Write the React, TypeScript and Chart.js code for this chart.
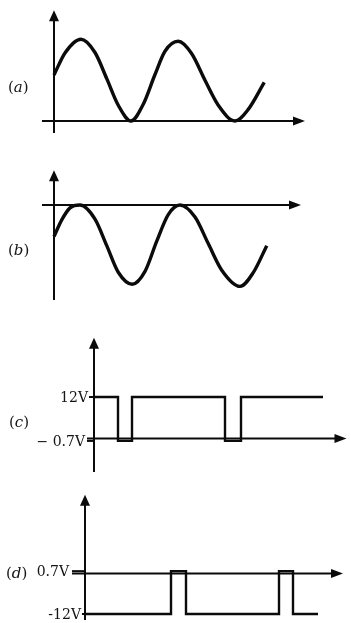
import React, { useEffect, useRef } from "react";
import { Chart, registerables } from "chart.js";

Chart.register(...registerables);

// ---------------- data (time in quarter-period units, values in panel units / volts) ----------------
// (a) sinusoid sitting on the time axis
const timeA = [0, 0.44, 1.08, 1.64, 2.11, 2.57, 3.08, 3.56, 4.04, 4.44, 4.97, 5.51, 6.04, 6.57, 7.24, 7.77, 8.41];
const valueA = [1.11, 1.64, 1.97, 1.65, 1.02, 0.38, 0, 0.39, 1.12, 1.68, 1.92, 1.62, 0.98, 0.38, 0, 0.28, 0.93];

// (b) sinusoid hanging below the time axis
const timeB = [0, 0.31, 0.64, 1.04, 1.64, 2.11, 2.57, 3.13, 3.64, 4.11, 4.57, 5.04, 5.64, 6.17, 6.71, 7.44, 7.97, 8.51];
const valueB = [-0.76, -0.36, -0.07, 0, -0.34, -0.98, -1.62, -1.91, -1.6, -0.87, -0.23, 0, -0.29, -0.93, -1.57, -1.96, -1.63, -0.98];

// (c) square wave: sits at 12 V, dips to -0.7 V
const levelsC = [12, -0.7]; // [resting level, pulse level]
const pulseStartC = [0.96, 5.24];
const pulseEndC = [1.52, 5.88];
const endC = 9.16;
const tickLabelsC = ["12V", "\u2212 0.7V"];

// (d) square wave: sits at -12 V, pulses up to 0.7 V
const levelsD = [-12, 0.7]; // [resting level, pulse level]
const pulseStartD = [3.44, 7.76];
const pulseEndD = [4.04, 8.32];
const endD = 9.32;
const tickLabelsD = ["-12V", "0.7V"];

const panelLetters = ["a", "b", "c", "d"];

// ---------------- helpers ----------------
type Pt = { x: number; y: number };

function zipPoints(t: number[], v: number[]): Pt[] {
  return t.map((x, i) => ({ x, y: v[i] }));
}

function pulseTrain(rest: number, pulse: number, starts: number[], ends: number[], end: number): Pt[] {
  const pts: Pt[] = [{ x: 0, y: rest }];
  starts.forEach((s, i) => {
    pts.push({ x: s, y: rest }, { x: s, y: pulse }, { x: ends[i], y: pulse }, { x: ends[i], y: rest });
  });
  pts.push({ x: end, y: rest });
  return pts;
}

const W = 351;
const INK = "#0b0b0b";
const FONT = '"DejaVu Serif", "Liberation Serif", serif';

type Level = { value: number; text: string; tick: number; gap: number };

type Panel = {
  letter: string;
  top: number;
  height: number;
  originX: number; // px of t = 0
  originY: number; // local px of v = 0
  pxT: number;
  pxV: number;
  tMin: number;
  tMax: number;
  vMin: number;
  vMax: number;
  series: Pt[];
  smooth: boolean;
  lineWidth: number;
  levels: Level[];
  labelPos: { left: number; top: number };
};

const panels: Panel[] = [
  {
    letter: panelLetters[0],
    top: 0,
    height: 150,
    originX: 54,
    originY: 121,
    pxT: 25,
    pxV: 41.5,
    tMin: -0.48,
    tMax: 10.04,
    vMin: -0.29,
    vMax: 2.67,
    series: zipPoints(timeA, valueA),
    smooth: true,
    lineWidth: 3.4,
    levels: [],
    labelPos: { left: 8, top: 78 },
  },
  {
    letter: panelLetters[1],
    top: 150,
    height: 160,
    originX: 54,
    originY: 55,
    pxT: 25,
    pxV: 41.5,
    tMin: -0.48,
    tMax: 9.88,
    vMin: -2.29,
    vMax: 0.84,
    series: zipPoints(timeB, valueB),
    smooth: true,
    lineWidth: 3.4,
    levels: [],
    labelPos: { left: 8, top: 91 },
  },
  {
    letter: panelLetters[2],
    top: 310,
    height: 170,
    originX: 94,
    originY: 128.5,
    pxT: 25,
    pxV: 3.458,
    tMin: -0.28,
    tMax: 10.1,
    vMin: -9.7,
    vMax: 29.1,
    series: pulseTrain(levelsC[0], levelsC[1], pulseStartC, pulseEndC, endC),
    smooth: false,
    lineWidth: 2.4,
    levels: [
      { value: levelsC[0], text: tickLabelsC[0], tick: 5, gap: 1 },
      { value: levelsC[1], text: tickLabelsC[1], tick: 7, gap: 2 },
    ],
    labelPos: { left: 9, top: 103 },
  },
  {
    letter: panelLetters[3],
    top: 480,
    height: 143,
    originX: 85,
    originY: 93.5,
    pxT: 25,
    pxV: 3.375,
    tMin: -0.52,
    tMax: 10.32,
    vMin: -13.8,
    vMax: 23.3,
    series: pulseTrain(levelsD[0], levelsD[1], pulseStartD, pulseEndD, endD),
    smooth: false,
    lineWidth: 2.4,
    levels: [
      { value: levelsD[0], text: tickLabelsD[0], tick: 3, gap: 1 },
      { value: levelsD[1], text: tickLabelsD[1], tick: 13, gap: 3 },
    ],
    labelPos: { left: 6, top: 84 },
  },
];

function makeAxesPlugin(p: Panel) {
  return {
    id: "axesArrows",
    beforeDatasetsDraw(chart: any) {
      const ctx: CanvasRenderingContext2D = chart.ctx;
      const xs = chart.scales.x;
      const ys = chart.scales.y;
      const x0 = xs.getPixelForValue(0);
      const y0 = ys.getPixelForValue(0);
      const xL = xs.getPixelForValue(p.tMin);
      const xR = xs.getPixelForValue(p.tMax);
      const yT = ys.getPixelForValue(p.vMax);
      const yB = ys.getPixelForValue(p.vMin);
      ctx.save();
      ctx.strokeStyle = INK;
      ctx.fillStyle = INK;
      ctx.lineWidth = 2;
      ctx.lineCap = "butt";
      // time axis
      ctx.beginPath();
      ctx.moveTo(xL, y0);
      ctx.lineTo(xR - 8, y0);
      ctx.stroke();
      ctx.beginPath();
      ctx.moveTo(xR, y0);
      ctx.lineTo(xR - 12, y0 - 4.5);
      ctx.lineTo(xR - 12, y0 + 4.5);
      ctx.closePath();
      ctx.fill();
      // value axis
      ctx.beginPath();
      ctx.moveTo(x0, yB);
      ctx.lineTo(x0, yT + 8);
      ctx.stroke();
      ctx.beginPath();
      ctx.moveTo(x0, yT);
      ctx.lineTo(x0 - 5, yT + 11);
      ctx.lineTo(x0 + 5, yT + 11);
      ctx.closePath();
      ctx.fill();
      // level ticks and labels
      ctx.font = `14px ${FONT}`;
      ctx.textAlign = "right";
      ctx.textBaseline = "middle";
      ctx.fillStyle = "#141414";
      p.levels.forEach((lv) => {
        const y = ys.getPixelForValue(lv.value);
        ctx.beginPath();
        ctx.moveTo(x0 - lv.tick, y);
        ctx.lineTo(x0, y);
        ctx.stroke();
        ctx.fillText(lv.text, x0 - lv.tick - lv.gap, y + 1);
      });
      ctx.restore();
    },
  };
}

function PanelChart({ p }: { p: Panel }) {
  const ref = useRef<HTMLCanvasElement>(null);
  useEffect(() => {
    const canvas = ref.current;
    if (!canvas) return;
    const chart = new Chart(canvas, {
      type: "line",
      data: {
        datasets: [
          {
            data: p.series as any,
            borderColor: INK,
            borderWidth: p.lineWidth,
            pointRadius: 0,
            fill: false,
            tension: 0,
            cubicInterpolationMode: p.smooth ? "monotone" : "default",
            borderJoinStyle: p.smooth ? "round" : "miter",
            borderCapStyle: "butt",
            clip: false as any,
          },
        ],
      },
      options: {
        animation: false,
        responsive: false,
        devicePixelRatio: 1,
        events: [],
        layout: { padding: 0 },
        scales: {
          x: {
            type: "linear",
            display: false,
            min: -p.originX / p.pxT,
            max: (W - p.originX) / p.pxT,
          },
          y: {
            type: "linear",
            display: false,
            min: -(p.height - p.originY) / p.pxV,
            max: p.originY / p.pxV,
          },
        },
        plugins: {
          legend: { display: false },
          tooltip: { enabled: false },
          title: { display: false },
        },
      },
      plugins: [makeAxesPlugin(p)],
    });
    return () => chart.destroy();
  }, [p]);
  return (
    <canvas
      ref={ref}
      width={W}
      height={p.height}
      style={{ position: "absolute", left: 0, top: p.top, width: W, height: p.height, display: "block" }}
    />
  );
}

export default function App() {
  return (
    <div
      style={{
        position: "absolute",
        left: 0,
        top: 0,
        width: W,
        height: 623,
        background: "#ffffff",
        overflow: "hidden",
      }}
    >
      {panels.map((p) => (
        <React.Fragment key={p.letter}>
          <PanelChart p={p} />
          <div
            style={{
              position: "absolute",
              left: p.labelPos.left,
              top: p.top + p.labelPos.top,
              font: `15px ${FONT}`,
              lineHeight: "18px",
              color: "#141414",
              whiteSpace: "nowrap",
            }}
          >
            (<i>{p.letter}</i>)
          </div>
        </React.Fragment>
      ))}
    </div>
  );
}
